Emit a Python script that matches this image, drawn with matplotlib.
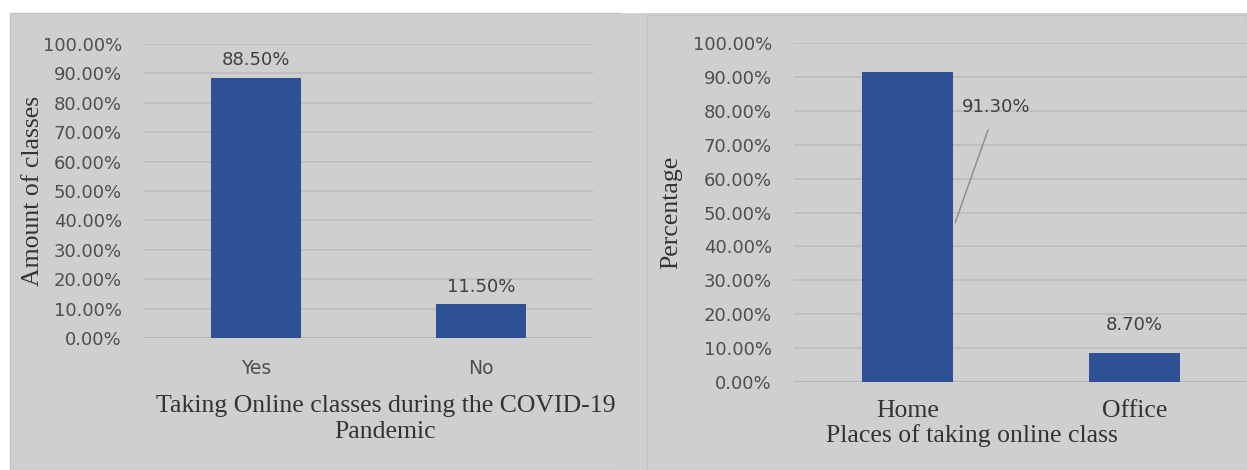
import matplotlib
matplotlib.use("Agg")
import matplotlib.pyplot as plt
from matplotlib.patches import Rectangle

# left chart
online_cats = ["Yes", "No"]
online_vals = [88.5, 11.5]
online_labels = ["88.50%", "11.50%"]

# right chart
place_cats = ["Home", "Office"]
place_vals = [91.3, 8.7]
place_labels = ["91.30%", "8.70%"]

yticks = list(range(0, 101, 10))
ytick_labels = ["%.2f%%" % v for v in yticks]

bar_col = "#2e5196"
bg = "#cfcfcf"
grid_col = "#bcbcbc"
tick_col = "#4f4f4f"
title_col = "#333333"
serif = "Liberation Serif"
sans = "DejaVu Sans"

fig = plt.figure(figsize=(12.47, 4.70), dpi=100)
fig.patch.set_facecolor("white")

W, H = 1247.0, 470.0
# gray panels behind each chart
for x0, y0, w, h, ec in [(10, 13, 610, 457, "#c3c3c3"), (620, 13, 627, 457, "none"),
                         (647, 15, 600, 455, "#c3c3c3")]:
    fig.patches.append(Rectangle((x0 / W, 0), w / W, h / H, transform=fig.transFigure,
                                 facecolor=bg, edgecolor=ec, lw=1.0, zorder=-5))


def style_axes(ax):
    ax.set_facecolor("none")
    ax.set_ylim(0, 100)
    ax.set_xlim(-0.5, 1.5)
    ax.set_yticks(yticks)
    ax.set_yticklabels(ytick_labels, fontsize=13, color=tick_col, family=sans)
    ax.tick_params(axis="y", length=0, pad=16)
    ax.tick_params(axis="x", length=0, pad=15)
    ax.grid(axis="y", color=grid_col, lw=1.2)
    ax.set_axisbelow(True)
    for s in ax.spines.values():
        s.set_visible(False)
    ax.axhline(0, color="#b5b5b5", lw=1.5, zorder=1)


# left
ax1 = fig.add_axes([144 / W, 1 - 338 / H, 449 / W, 294 / H])
style_axes(ax1)
ax1.bar(range(len(online_cats)), online_vals, width=0.4, color=bar_col, zorder=2)
ax1.set_xticks(range(len(online_cats)))
ax1.set_xticklabels(online_cats, fontsize=13.5, color=tick_col, family=sans)
for i, v in enumerate(online_vals):
    ax1.text(i, v + 6, online_labels[i], ha="center", va="center", fontsize=13,
             color="#404040", family=sans)
ax1.set_ylabel("Amount of classes", fontsize=18.5, color=title_col, family=serif)
ax1.yaxis.set_label_coords(-0.222, 0.5)
ax1.set_xlabel("Taking Online classes during the COVID-19\nPandemic", fontsize=18.5,
               color=title_col, family=serif, linespacing=1.2)
ax1.xaxis.set_label_coords(0.538, -0.195)

# right
ax2 = fig.add_axes([794 / W, 1 - 382 / H, 454 / W, 339 / H])
style_axes(ax2)
ax2.bar(range(len(place_cats)), place_vals, width=0.4, color=bar_col, zorder=2)
ax2.set_xticks(range(len(place_cats)))
ax2.set_xticklabels(place_cats, fontsize=18.5, color=title_col, family=serif)
ax2.tick_params(axis="x", pad=13)
ax2.annotate(place_labels[0], xy=(0.21, 47), xytext=(0.39, 81), ha="center", va="center",
             fontsize=13, color="#404040", family=sans,
             arrowprops=dict(arrowstyle="-", color="#8a8a8a", lw=1.0, shrinkA=8, shrinkB=0))
ax2.text(1, place_vals[1] + 8, place_labels[1], ha="center", va="center", fontsize=13,
         color="#404040", family=sans)
ax2.set_ylabel("Percentage", fontsize=18.5, color=title_col, family=serif)
ax2.yaxis.set_label_coords(-0.245, 0.5)
ax2.set_xlabel("Places of taking online class", fontsize=18.5, color=title_col, family=serif)
ax2.xaxis.set_label_coords(0.392, -0.125)

fig.savefig("out.png", dpi=100, facecolor=fig.get_facecolor())
